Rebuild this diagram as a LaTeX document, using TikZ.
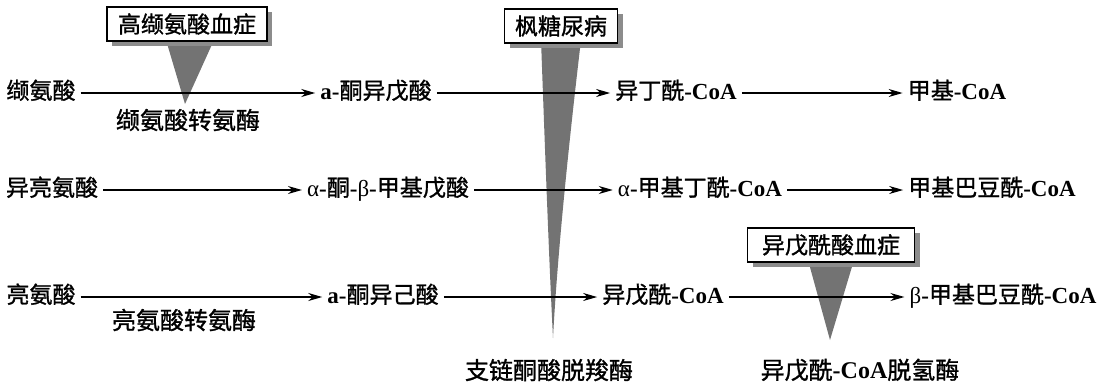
\documentclass[tikz,border=0pt]{standalone}
\usepackage{fontspec}
\setmainfont{Liberation Serif}
\newfontfamily\cjk[FakeBold=1.2]{Noto Sans CJK SC}
\usetikzlibrary{arrows.meta,shadows}
\newcommand\lt[1]{{\rmfamily\bfseries #1}}
\newcommand\gk[1]{{\rmfamily #1}}
\begin{document}
\begin{tikzpicture}[x=1pt,y=-1pt,
  txt/.style={font=\fontsize{23}{27}\selectfont\cjk, inner xsep=5pt, inner ysep=0pt, text height=17pt, text depth=5pt},
  lbl/.style={font=\fontsize{24}{28}\selectfont\cjk, inner sep=0pt},
  dbox/.style={draw, line width=1.5pt, fill=white, font=\fontsize{23}{27}\selectfont\cjk, inner sep=3pt, minimum height=34pt,
    drop shadow={shadow xshift=5pt, shadow yshift=-5pt, fill=black!45, opacity=1}},
  flow/.style={line width=1.4pt, -{Stealth[length=14pt,width=8pt]}},
  block/.style={fill=black!55}]
\useasboundingbox (0,0) rectangle (1115,388);

% disease markers (tapered blocks)
\fill[block] (166,40) -- (214,40) -- (185,104) -- cycle;
\fill[block] (541,40) .. controls (545,150) and (549,260) .. (553,338)
  .. controls (557,260) and (568,150) .. (581,40) -- cycle;
\fill[block] (808,260) -- (854,260) -- (830,340) -- cycle;

% disease boxes
\node[dbox, minimum width=160pt] (b1) at (187,24) {高缬氨酸血症};
\node[dbox, minimum width=113pt] (b2) at (561,26) {枫糖尿病};
\node[dbox, minimum width=167pt] (b3) at (831,245) {异戊酰酸血症};

% row 1: valine
\node[txt] (v1) at (41,93) {缬氨酸};
\node[txt] (v2) at (376,93) {\lt{a-}酮异戊酸};
\node[txt] (v3) at (676,93) {异丁酰\lt{-CoA}};
\node[txt] (v4) at (957,93) {甲基\lt{-CoA}};

% row 2: isoleucine
\node[txt] (i1) at (52,190) {异亮氨酸};
\node[txt] (i2) at (388,190) {\gk{α}\lt{-}酮\lt{-}\gk{β}\lt{-}甲基戊酸};
\node[txt] (i3) at (700,190) {\gk{α}\lt{-}甲基丁酰\lt{-CoA}};
\node[txt] (i4) at (992,190) {甲基巴豆酰\lt{-CoA}};

% row 3: leucine
\node[txt] (l1) at (41,297) {亮氨酸};
\node[txt] (l2) at (383,297) {\lt{a-}酮异己酸};
\node[txt] (l3) at (663,297) {异戊酰\lt{-CoA}};
\node[txt] (l4) at (1003,297) {\gk{β}\lt{-}甲基巴豆酰\lt{-CoA}};

% enzyme labels
\node[lbl] (e1) at (188,120) {缬氨酸转氨酶};
\node[lbl] (e2) at (184,320) {亮氨酸转氨酶};
\node[lbl] (e3) at (549,370) {支链酮酸脱羧酶};
\node[lbl] (e4) at (860,370) {异戊酰\lt{-CoA}脱氢酶};

% reactions
\draw[flow] (v1) -- (v2);
\draw[flow] (v2) -- (v3);
\draw[flow] (v3) -- (v4);
\draw[flow] (i1) -- (i2);
\draw[flow] (i2) -- (i3);
\draw[flow] (i3) -- (i4);
\draw[flow] (l1) -- (l2);
\draw[flow] (l2) -- (l3);
\draw[flow] (l3) -- (l4);
\end{tikzpicture}
\end{document}
